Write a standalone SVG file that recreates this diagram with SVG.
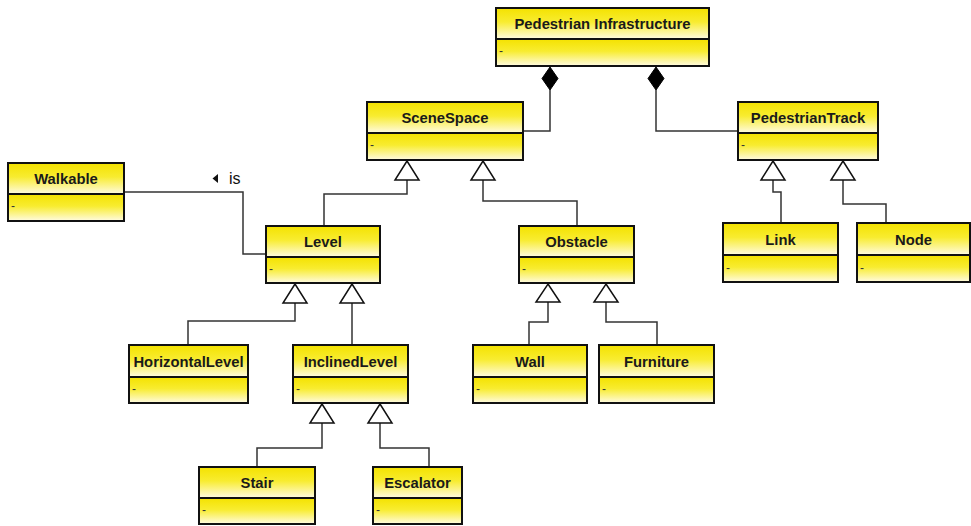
<svg xmlns="http://www.w3.org/2000/svg" width="971" height="526" viewBox="0 0 971 526">
<defs>
<linearGradient id="yg" x1="0" y1="0" x2="0" y2="1">
<stop offset="0" stop-color="#f4e200"/>
<stop offset="0.45" stop-color="#f8ec30"/>
<stop offset="1" stop-color="#fffbe2"/>
</linearGradient>
</defs>
<style>
.c{fill:url(#yg);stroke:#111;stroke-width:2}
.t{font-family:"Liberation Sans",Arial,sans-serif;font-weight:bold;font-size:14.8px;fill:#1a1a1a;text-anchor:middle}
.a{font-family:"Liberation Sans",Arial,sans-serif;font-size:12px;fill:#333}
.l{fill:none;stroke:#333;stroke-width:1.5}
.tri{fill:#fff;stroke:#111;stroke-width:1.5}
.dia{fill:#000;stroke:#000}
.lbl{font-family:"Liberation Sans",Arial,sans-serif;font-size:16px;fill:#111}
</style>
<rect width="971" height="526" fill="#fff"/>
<g id="connectors">
<path class="l" d="M550,90 V131 H523"/>
<path class="l" d="M656,90 V131 H738"/>
<path class="l" d="M407,180 V194 H324 V226"/>
<path class="l" d="M483,180 V201 H577 V226"/>
<path class="l" d="M124,192 H243 V254 H266"/>
<path class="l" d="M773,180 V192 H781 V223"/>
<path class="l" d="M843,180 V204 H886 V223"/>
<path class="l" d="M295,303 V321 H188 V345"/>
<path class="l" d="M352,303 V345"/>
<path class="l" d="M548,302 V322 H529 V345"/>
<path class="l" d="M606,302 V322 H657 V345"/>
<path class="l" d="M322,423 V448 H257 V467"/>
<path class="l" d="M380,423 V448 H429 V467"/>
<polygon class="dia" points="550,67 558,78.5 550,90 542,78.5"/>
<polygon class="dia" points="656,67 664,78.5 656,90 648,78.5"/>
<polygon class="tri" points="407,161 419,180 395,180"/>
<polygon class="tri" points="483,161 495,180 471,180"/>
<polygon class="tri" points="773,161 785,180 761,180"/>
<polygon class="tri" points="843,161 855,180 831,180"/>
<polygon class="tri" points="295,284 307,303 283,303"/>
<polygon class="tri" points="352,284 364,303 340,303"/>
<polygon class="tri" points="548,284 560,302 536,302"/>
<polygon class="tri" points="606,284 618,302 594,302"/>
<polygon class="tri" points="322,404 334,423 310,423"/>
<polygon class="tri" points="380,404 392,423 368,423"/>
<polygon fill="#111" points="218,174 218,183 212.5,178.5"/>
<text class="lbl" x="229" y="184">is</text>
</g>
<g id="PedestrianInfrastructure">
<rect class="c" x="496" y="8" width="213" height="31"/>
<rect class="c" x="496" y="39" width="213" height="27"/>
<text class="t" x="602.5" y="28.5">Pedestrian Infrastructure</text>
<text class="a" x="499" y="55">-</text>
</g>
<g id="SceneSpace">
<rect class="c" x="367" y="102" width="156" height="31"/>
<rect class="c" x="367" y="133" width="156" height="27"/>
<text class="t" x="445" y="122.5">SceneSpace</text>
<text class="a" x="370" y="149">-</text>
</g>
<g id="PedestrianTrack">
<rect class="c" x="738" y="102" width="140" height="31"/>
<rect class="c" x="738" y="133" width="140" height="27"/>
<text class="t" x="808" y="122.5">PedestrianTrack</text>
<text class="a" x="741" y="149">-</text>
</g>
<g id="Walkable">
<rect class="c" x="8" y="163" width="116" height="31"/>
<rect class="c" x="8" y="194" width="116" height="27"/>
<text class="t" x="66" y="183.5">Walkable</text>
<text class="a" x="11" y="210">-</text>
</g>
<g id="Level">
<rect class="c" x="266" y="226" width="114" height="31"/>
<rect class="c" x="266" y="257" width="114" height="26"/>
<text class="t" x="323" y="246.5">Level</text>
<text class="a" x="269" y="273">-</text>
</g>
<g id="Obstacle">
<rect class="c" x="519" y="226" width="115" height="31"/>
<rect class="c" x="519" y="257" width="115" height="26"/>
<text class="t" x="576.5" y="246.5">Obstacle</text>
<text class="a" x="522" y="273">-</text>
</g>
<g id="Link">
<rect class="c" x="723" y="223" width="115" height="32"/>
<rect class="c" x="723" y="255" width="115" height="27"/>
<text class="t" x="780.5" y="244.5">Link</text>
<text class="a" x="726" y="272">-</text>
</g>
<g id="Node">
<rect class="c" x="857" y="223" width="113" height="32"/>
<rect class="c" x="857" y="255" width="113" height="27"/>
<text class="t" x="913.5" y="244.5">Node</text>
<text class="a" x="860" y="272">-</text>
</g>
<g id="HorizontalLevel">
<rect class="c" x="129" y="345" width="119" height="32"/>
<rect class="c" x="129" y="377" width="119" height="26"/>
<text class="t" x="188.5" y="366.5">HorizontalLevel</text>
<text class="a" x="132" y="393">-</text>
</g>
<g id="InclinedLevel">
<rect class="c" x="293" y="345" width="115" height="32"/>
<rect class="c" x="293" y="377" width="115" height="26"/>
<text class="t" x="350.5" y="366.5">InclinedLevel</text>
<text class="a" x="296" y="393">-</text>
</g>
<g id="Wall">
<rect class="c" x="473" y="345" width="114" height="32"/>
<rect class="c" x="473" y="377" width="114" height="26"/>
<text class="t" x="530" y="366.5">Wall</text>
<text class="a" x="476" y="393">-</text>
</g>
<g id="Furniture">
<rect class="c" x="599" y="345" width="115" height="32"/>
<rect class="c" x="599" y="377" width="115" height="26"/>
<text class="t" x="656.5" y="366.5">Furniture</text>
<text class="a" x="602" y="393">-</text>
</g>
<g id="Stair">
<rect class="c" x="199" y="467" width="116" height="31"/>
<rect class="c" x="199" y="498" width="116" height="26"/>
<text class="t" x="257" y="487.5">Stair</text>
<text class="a" x="202" y="514">-</text>
</g>
<g id="Escalator">
<rect class="c" x="373" y="467" width="89" height="31"/>
<rect class="c" x="373" y="498" width="89" height="26"/>
<text class="t" x="417.5" y="487.5">Escalator</text>
<text class="a" x="376" y="514">-</text>
</g>
</svg>
